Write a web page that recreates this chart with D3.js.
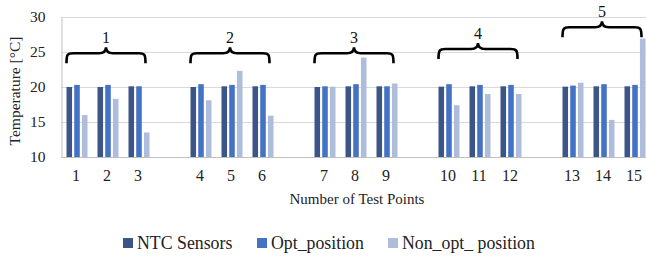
<!DOCTYPE html>
<html>
<head>
<meta charset="utf-8">
<title>Test points</title>
<style>
  body { margin: 0; background: #fff; }
  svg { display: block; }
  svg text { font-family: "Liberation Serif", "Times New Roman", serif !important; }
</style>
</head>
<body>
<svg width="646" height="256"></svg>
<script src="https://d3js.org/d3.v7.min.js"></script>
<script>
// categories (gaps between groups are empty slots)
var categories = ["1", "2", "3", "g1", "4", "5", "6", "g2", "7", "8", "9", "g3", "10", "11", "12", "g4", "13", "14", "15"];
var points = ["1", "2", "3", "4", "5", "6", "7", "8", "9", "10", "11", "12", "13", "14", "15"];
var series = ["NTC Sensors", "Opt_position", "Non_opt_ position"];
var ntc = [20.0, 20.0, 20.1, 20.0, 20.1, 20.1, 20.0, 20.1, 20.1, 20.05, 20.1, 20.1, 20.05, 20.1, 20.1];
var opt = [20.3, 20.3, 20.1, 20.4, 20.3, 20.3, 20.1, 20.4, 20.1, 20.4, 20.3, 20.3, 20.2, 20.4, 20.3];
var nonOpt = [16.0, 18.3, 13.5, 18.1, 22.3, 15.9, 20.05, 24.2, 20.5, 17.4, 19.0, 19.0, 20.6, 15.3, 26.9];
var yTicks = [10, 15, 20, 25, 30];
// group braces: label, middle point, level of the brace ends
var groupLabels = ["1", "2", "3", "4", "5"];
var groupMiddle = ["2", "5", "8", "11", "14"];
var braceLevels = [23.4, 23.4, 23.4, 24.0, 27.1];

var colors = ["#3b5589", "#4472c4", "#aebddc"];

var svg = d3.select("svg");

var x = d3.scaleBand()
  .domain(categories)
  .range([60.5, 649.5]);

var xs = d3.scaleBand()
  .domain(series)
  .range([6, 27])
  .paddingInner(0.28);

var y = d3.scaleLinear()
  .domain([10, 30])
  .range([157, 17]);

// gridlines
svg.append("g")
  .selectAll("line")
  .data(yTicks.slice(1))
  .enter().append("line")
  .attr("x1", 61)
  .attr("x2", 646)
  .attr("y1", function(d) { return y(d) + 0.5; })
  .attr("y2", function(d) { return y(d) + 0.5; })
  .attr("stroke", "#d9d9d9")
  .attr("stroke-width", 1);

// y axis
var yAxis = svg.append("g")
  .attr("transform", "translate(61.5,0)")
  .call(d3.axisLeft(y).tickValues(yTicks).tickSize(0).tickPadding(16));
yAxis.attr("font-family", null);
yAxis.select(".domain").attr("stroke", "#bfbfbf");
yAxis.selectAll("text")
  .style("font-size", "15.5px")
  .attr("fill", "#222");

// bars
var rows = points.map(function(p, i) {
  return { point: p, values: [ntc[i], opt[i], nonOpt[i]] };
});

var groups = svg.append("g")
  .selectAll("g")
  .data(rows)
  .enter().append("g")
  .attr("transform", function(d) { return "translate(" + x(d.point) + ",0)"; });

groups.selectAll("rect")
  .data(function(d) {
    return d.values.map(function(v, j) { return { key: series[j], value: v, idx: j }; });
  })
  .enter().append("rect")
  .attr("x", function(d) { return xs(d.key); })
  .attr("width", xs.bandwidth())
  .attr("y", function(d) { return y(d.value); })
  .attr("height", function(d) { return y(10) - y(d.value); })
  .attr("fill", function(d) { return colors[d.idx]; });

// x axis
var xAxis = svg.append("g")
  .attr("transform", "translate(0," + y(10) + ")")
  .call(d3.axisBottom(x).tickSize(0).tickPadding(13)
    .tickFormat(function(d) { return d.charAt(0) == "g" ? "" : d; }));
xAxis.attr("font-family", null);
xAxis.select(".domain").attr("stroke", "#bfbfbf").attr("d", "M61,0.5H646");
xAxis.selectAll("text")
  .style("font-size", "16px")
  .attr("fill", "#222");

// braces
function bracePath(cx, yEnd, half) {
  var yMid = yEnd - 10, yTip = yEnd - 16;
  var x0 = cx - half, x1 = cx + half, r = 7;
  return "M" + x0 + "," + yEnd +
    "C" + x0 + "," + (yMid + 1) + " " + (x0 + 1) + "," + yMid + " " + (x0 + r) + "," + yMid +
    "L" + (cx - r) + "," + yMid +
    "Q" + cx + "," + yMid + " " + cx + "," + yTip +
    "Q" + cx + "," + yMid + " " + (cx + r) + "," + yMid +
    "L" + (x1 - r) + "," + yMid +
    "C" + (x1 - 1) + "," + yMid + " " + x1 + "," + (yMid + 1) + " " + x1 + "," + yEnd;
}

var braces = svg.append("g");
groupLabels.forEach(function(lbl, i) {
  var cx = x(groupMiddle[i]) + x.bandwidth() / 2 - 1;
  var yEnd = y(braceLevels[i]);
  braces.append("path")
    .attr("d", bracePath(cx, yEnd, 39.5))
    .attr("fill", "none")
    .attr("stroke", "#000")
    .attr("stroke-width", 2.6);
  braces.append("text")
    .attr("x", cx)
    .attr("y", yEnd - 20)
    .attr("text-anchor", "middle")
    .style("font-size", "16px")
    .attr("fill", "#111")
    .text(lbl);
});

// axis titles
svg.append("text")
  .attr("transform", "translate(20,91) rotate(-90)")
  .attr("text-anchor", "middle")
  .style("font-size", "15.5px")
  .attr("fill", "#222")
  .text("Temperature [°C]");

svg.append("text")
  .attr("x", 357)
  .attr("y", 204)
  .attr("text-anchor", "middle")
  .style("font-size", "15px")
  .attr("fill", "#222")
  .text("Number of Test Points");

// legend
var legendX = [123, 257, 388];
var legend = svg.append("g")
  .selectAll("g")
  .data(series)
  .enter().append("g")
  .attr("transform", function(d, i) { return "translate(" + legendX[i] + ",238)"; });

legend.append("rect")
  .attr("width", 10)
  .attr("height", 10)
  .attr("fill", function(d, i) { return colors[i]; });

legend.append("text")
  .attr("x", 14)
  .attr("y", 11)
  .style("font-size", "17.8px")
  .attr("fill", "#222")
  .text(function(d) { return d; });
</script>
</body>
</html>
